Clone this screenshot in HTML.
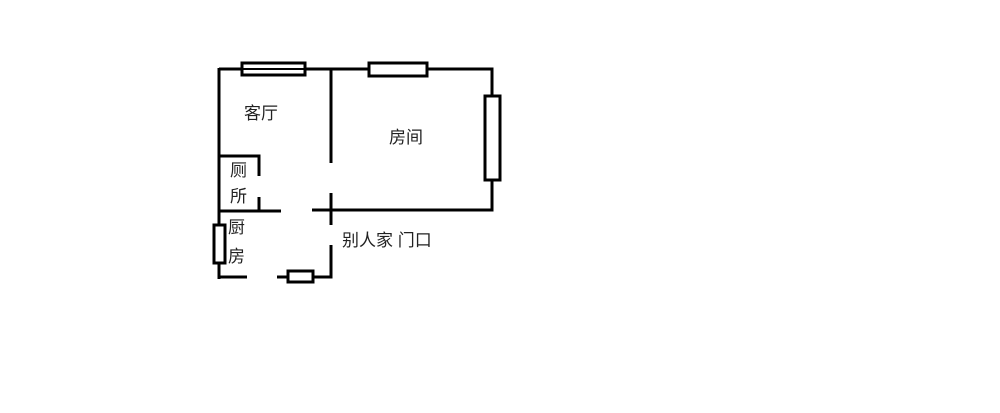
<!DOCTYPE html><html><head><meta charset="utf-8"><style>
body{margin:0;background:#fff;width:1000px;height:408px;overflow:hidden}
text{font-family:"Liberation Sans","Noto Sans CJK SC",sans-serif;font-size:17px;fill:#222}
</style></head><body>
<svg width="1000" height="408" xmlns="http://www.w3.org/2000/svg">
<g stroke="#000" stroke-width="3" fill="none">
<polyline points="331,69 492,69 492,210 312,210"/>
<line x1="219" y1="69" x2="331" y2="69"/>
<line x1="219" y1="68" x2="219" y2="279"/>
<line x1="331" y1="69" x2="331" y2="163"/>
<line x1="331" y1="193" x2="331" y2="225"/>
<polyline points="219,156 259,156 259,176"/>
<line x1="259" y1="197" x2="259" y2="211"/>
<line x1="219" y1="211" x2="281" y2="211"/>
<line x1="219" y1="277" x2="247" y2="277"/>
<polyline points="277,277 331,277 331,245"/>
<rect x="242" y="63" width="63" height="12" fill="#fff"/>
<line x1="242" y1="69" x2="305" y2="69" stroke-width="2"/>
<rect x="369" y="63" width="58" height="13" fill="#fff"/>
<rect x="485" y="96" width="15" height="84" fill="#fff"/>
<rect x="214" y="225" width="11" height="38" fill="#fff"/>
<rect x="288" y="271" width="25" height="11" fill="#fff"/>
</g>
<text x="244" y="119">客厅</text>
<text x="389" y="143">房间</text>
<text x="230" y="176">厕</text>
<text x="230" y="202">所</text>
<text x="228" y="233">厨</text>
<text x="228" y="262">房</text>
<text x="342" y="246">别人家 门口</text>
</svg>
</body></html>
